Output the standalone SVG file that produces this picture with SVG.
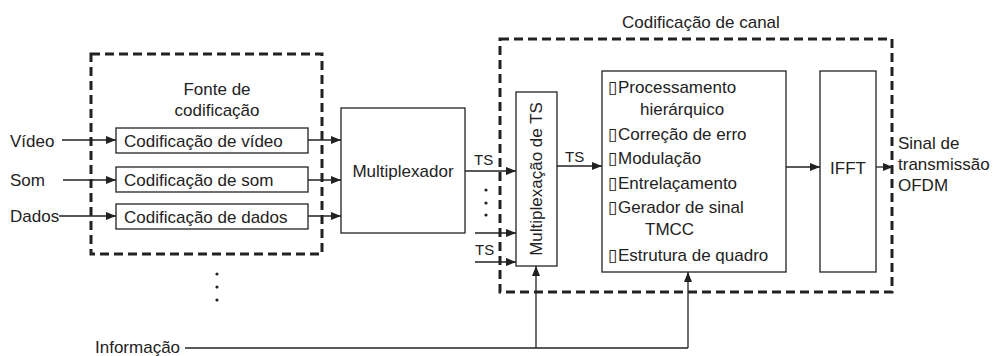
<svg xmlns="http://www.w3.org/2000/svg" width="997" height="356" viewBox="0 0 997 356">
<style>
text{font-family:"Liberation Sans",Arial,sans-serif;font-size:17px;fill:#222}
.ts{font-size:15px}
.box{fill:#fff;stroke:#222;stroke-width:1.3}
.dash{fill:none;stroke:#222;stroke-width:3;stroke-dasharray:9 5}
.ln{fill:none;stroke:#222;stroke-width:1.3}
.arr{marker-end:url(#ah)}
.dot{fill:#222}
</style>
<defs>
<marker id="ah" markerUnits="userSpaceOnUse" markerWidth="10" markerHeight="8" refX="10" refY="4" orient="auto">
<path d="M0,0 L10,4 L0,8 z" fill="#222"/>
</marker>
</defs>

<g id="fonte-codificacao">
<rect class="dash" x="91" y="54" width="231" height="200"/>
<text x="217" y="95" text-anchor="middle">Fonte de</text>
<text x="217" y="116" text-anchor="middle">codificação</text>
</g>
<g id="codificacao-canal">
<rect class="dash" x="500" y="39" width="392" height="253"/>
<text x="622" y="28">Codificação de canal</text>
</g>

<g id="in-video"><text x="10" y="147">Vídeo</text></g>
<g id="in-som"><text x="10" y="186">Som</text></g>
<g id="in-dados"><text x="10" y="222">Dados</text></g>

<g id="cod-video"><rect class="box" x="116" y="128" width="192" height="25"/><text x="124" y="146.5">Codificação de vídeo</text></g>
<g id="cod-som"><rect class="box" x="116" y="167" width="192" height="25"/><text x="124" y="185.5">Codificação de som</text></g>
<g id="cod-dados"><rect class="box" x="116" y="204" width="192" height="25"/><text x="124" y="222.5">Codificação de dados</text></g>

<g id="multiplexador"><rect class="box" x="341" y="108" width="124" height="125"/><text x="403" y="177" text-anchor="middle">Multiplexador</text></g>

<g id="multiplexacao-ts"><rect class="box" x="516" y="92" width="41" height="174"/><text transform="translate(542,179) rotate(-90)" text-anchor="middle">Multiplexação de TS</text></g>

<g id="processamento">
<rect class="box" x="602" y="71" width="184" height="201"/>
<text x="608" y="93">▯<tspan x="618">Processamento</tspan></text>
<text x="640" y="115">hierárquico</text>
<text x="608" y="140">▯<tspan x="618">Correção de erro</tspan></text>
<text x="608" y="164">▯<tspan x="618">Modulação</tspan></text>
<text x="608" y="189">▯<tspan x="618">Entrelaçamento</tspan></text>
<text x="608" y="213">▯<tspan x="618">Gerador de sinal</tspan></text>
<text x="645" y="235">TMCC</text>
<text x="608" y="261">▯<tspan x="618">Estrutura de quadro</tspan></text>
</g>

<g id="ifft"><rect class="box" x="820" y="71" width="56" height="201"/><text x="848" y="174" text-anchor="middle">IFFT</text></g>

<g id="saida"><text x="898" y="149">Sinal de</text><text x="898" y="170">transmissão</text><text x="898" y="191">OFDM</text></g>

<g id="informacao"><text x="95" y="353">Informação</text></g>

<g id="connectors">
<line class="ln arr" x1="62" y1="140" x2="116" y2="140"/>
<line class="ln arr" x1="63" y1="180" x2="116" y2="180"/>
<line class="ln arr" x1="59" y1="216" x2="116" y2="216"/>
<line class="ln arr" x1="308" y1="140" x2="341" y2="140"/>
<line class="ln arr" x1="308" y1="180" x2="341" y2="180"/>
<line class="ln arr" x1="308" y1="216" x2="341" y2="216"/>
<line class="ln arr" x1="465" y1="171" x2="516" y2="171"/>
<text class="ts" x="474" y="165">TS</text>
<line class="ln arr" x1="475" y1="233" x2="516" y2="233"/>
<text class="ts" x="475" y="255">TS</text>
<line class="ln arr" x1="475" y1="262" x2="516" y2="262"/>
<line class="ln arr" x1="557" y1="166" x2="602" y2="166"/>
<text class="ts" x="565" y="162">TS</text>
<line class="ln arr" x1="786" y1="167" x2="820" y2="167"/>
<line class="ln arr" x1="876" y1="167" x2="893" y2="167"/>
<line class="ln" x1="185" y1="348" x2="688" y2="348"/>
<line class="ln arr" x1="536" y1="348" x2="536" y2="266"/>
<line class="ln arr" x1="688" y1="348" x2="688" y2="272"/>
<circle class="dot" cx="486" cy="190" r="1.6"/>
<circle class="dot" cx="486" cy="203" r="1.6"/>
<circle class="dot" cx="486" cy="215" r="1.6"/>
<circle class="dot" cx="217" cy="274" r="1.6"/>
<circle class="dot" cx="217" cy="287" r="1.6"/>
<circle class="dot" cx="217" cy="300" r="1.6"/>
</g>
</svg>
